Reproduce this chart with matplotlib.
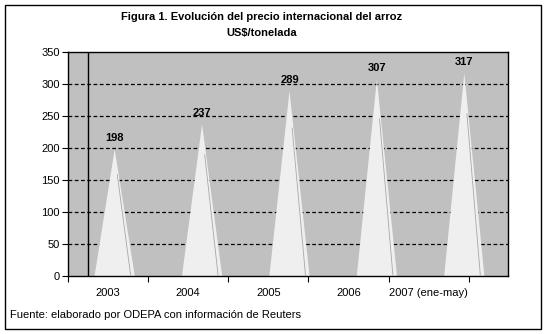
import numpy as np
import matplotlib.pyplot as plt
from matplotlib.patches import Polygon, Rectangle

plt.rcParams['font.family'] = ['Liberation Sans', 'DejaVu Sans']

# data
years = ['2003', '2004', '2005', '2006', '2007 (ene-may)']
prices = [198, 237, 289, 307, 317]

W, H = 548, 334
fig = plt.figure(figsize=(W / 100, H / 100), dpi=100)

# outer frame
fig.patches.append(Rectangle((5 / W, 5 / H), 536 / W, 324 / H, transform=fig.transFigure,
                             fill=False, edgecolor='black', linewidth=1))

ax = fig.add_axes([68 / W, 1 - 276 / H, 440 / W, 224 / H])
ax.set_facecolor('#c0c0c0')
ax.set_xlim(-0.5, 4.5)
ax.set_ylim(0, 350)

# dashed gridlines
for y in range(50, 350, 50):
    ax.axhline(y, color='black', linestyle=(0, (3, 2)), linewidth=0.9, zorder=1)

# back wall edge line
ax.axvline(-0.307, color='black', linewidth=1, zorder=1)

# cones
half = 0.23
for i, v in enumerate(prices):
    cone = Polygon([(i - half, 0), (i, v), (i + half, 0)], closed=True,
                   facecolor='#efefef', edgecolor='none', zorder=2)
    ax.add_patch(cone)
    ax.plot([i + 0.03, i + half * 0.8], [v * 0.8, 0], color='#a8a8a8', linewidth=0.6, zorder=3)
    ax.text(i, v + 18, str(v), ha='center', va='center', fontsize=8, fontweight='bold', zorder=4)

# front-plane category ticks and labels
step = 0.917
tick_pos = -0.534 + step * np.arange(len(years) + 1)
label_pos = tick_pos[:-1] + step / 2
ax.set_xticks(tick_pos)
ax.set_xticklabels([])
ax.set_xticks(label_pos, minor=True)
ax.set_xticklabels(years, minor=True, fontsize=8)
ax.tick_params(axis='x', which='minor', length=0, pad=9)
ax.tick_params(axis='x', which='major', length=4, direction='out')

ax.set_yticks(range(0, 351, 50))
ax.tick_params(axis='y', length=4, labelsize=8, pad=2)

for s in ax.spines.values():
    s.set_color('black')
    s.set_linewidth(1)

fig.text(262 / W, 1 - 17 / H, 'Figura 1. Evolución del precio internacional del arroz',
         ha='center', va='center', fontsize=8, fontweight='bold')
fig.text(262 / W, 1 - 33 / H, 'US$/tonelada', ha='center', va='center', fontsize=8, fontweight='bold')
fig.text(10 / W, 1 - 315 / H, 'Fuente: elaborado por ODEPA con información de Reuters',
         ha='left', va='center', fontsize=8)

fig.savefig('out.png', dpi=100)
